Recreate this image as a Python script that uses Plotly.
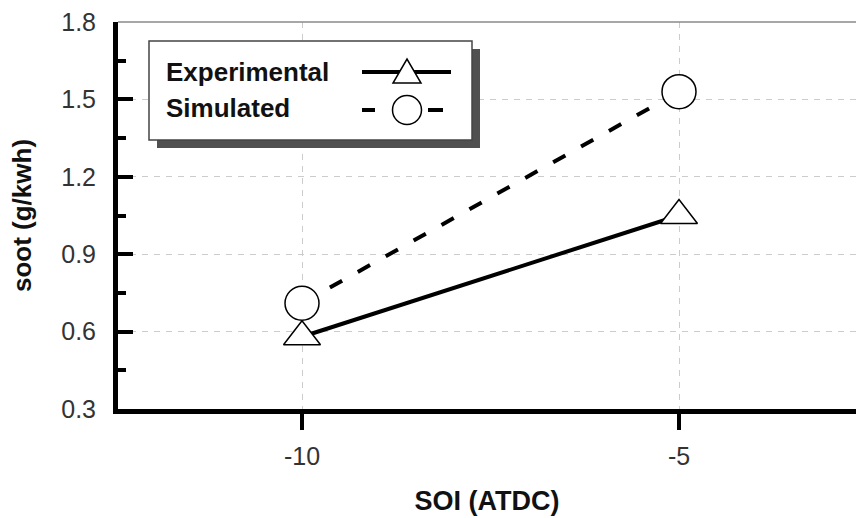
import plotly.graph_objects as go

# ---- data ----
soi = [-10, -5]
soot_experimental = [0.58, 1.05]
soot_simulated = [0.71, 1.53]
y_ticks = [0.3, 0.6, 0.9, 1.2, 1.5, 1.8]
x_ticks = [-10, -5]
series_names = ["Experimental", "Simulated"]

FW, FH = 856, 518
L, T, B = 118, 22, 409
W = FW - L
H = B - T


def px(x):
    return (x - L) / W


def py(y):
    return (B - y) / H


FONT = "Arial, Liberation Sans, sans-serif"

fig = go.Figure()
fig.add_trace(go.Scatter(
    x=soi, y=soot_experimental, mode="lines+markers", name=series_names[0],
    line=dict(color="black", width=4),
    marker=dict(symbol="triangle-up", size=32, color="white",
                line=dict(color="black", width=1.5)),
    showlegend=False))
fig.add_trace(go.Scatter(
    x=soi, y=soot_simulated, mode="lines+markers", name=series_names[1],
    line=dict(color="black", width=4, dash="14px,18px"),
    marker=dict(symbol="circle", size=34, color="white",
                line=dict(color="black", width=1.5)),
    showlegend=False))

shapes = []
# top border
shapes.append(dict(type="line", xref="paper", yref="paper", x0=0, x1=1, y0=1, y1=1,
                   line=dict(color="#8a8a8a", width=1.5), layer="above"))
# legend shadow and box
shapes.append(dict(type="rect", xref="paper", yref="paper",
                   x0=px(157), x1=px(480), y0=py(148), y1=py(49),
                   fillcolor="#505050", line=dict(width=0), layer="above"))
shapes.append(dict(type="rect", xref="paper", yref="paper",
                   x0=px(149), x1=px(472), y0=py(140), y1=py(41),
                   fillcolor="white", line=dict(color="#444444", width=1.5), layer="above"))
# legend samples
shapes.append(dict(type="line", xref="paper", yref="paper",
                   x0=px(362), x1=px(451), y0=py(72), y1=py(72),
                   line=dict(color="black", width=4), layer="above"))
tx, ty = 407, 71
tri = "M {} {} L {} {} L {} {} Z".format(px(tx - 14), py(ty + 12), px(tx + 14), py(ty + 12), px(tx), py(ty - 12))
shapes.append(dict(type="path", xref="paper", yref="paper", path=tri,
                   fillcolor="white", line=dict(color="black", width=1.5), layer="above"))
shapes.append(dict(type="line", xref="paper", yref="paper",
                   x0=px(362), x1=px(375), y0=py(110), y1=py(110),
                   line=dict(color="black", width=4), layer="above"))
shapes.append(dict(type="line", xref="paper", yref="paper",
                   x0=px(428), x1=px(443), y0=py(110), y1=py(110),
                   line=dict(color="black", width=4), layer="above"))
cx, cy, r = 407, 110, 14.5
shapes.append(dict(type="circle", xref="paper", yref="paper",
                   x0=px(cx - r), x1=px(cx + r), y0=py(cy + r), y1=py(cy - r),
                   fillcolor="white", line=dict(color="black", width=1.5), layer="above"))

annotations = [
    dict(text="<b>" + series_names[0] + "</b>", xref="paper", yref="paper",
         x=px(164), y=py(72), xanchor="left", yanchor="middle", showarrow=False,
         font=dict(family=FONT, size=26, color="#111")),
    dict(text="<b>" + series_names[1] + "</b>", xref="paper", yref="paper",
         x=px(164), y=py(108), xanchor="left", yanchor="middle", showarrow=False,
         font=dict(family=FONT, size=26, color="#111")),
]

fig.update_layout(
    width=FW, height=FH,
    margin=dict(l=L, r=0, t=T, b=FH - B, pad=0),
    plot_bgcolor="white", paper_bgcolor="white",
    shapes=shapes, annotations=annotations,
    xaxis=dict(
        range=[-10 - (302 - L) / 75.4, -5 + (FW - 679) / 75.4],
        tickvals=x_ticks, ticktext=[str(v) for v in x_ticks],
        showline=True, linewidth=5, linecolor="black",
        ticks="outside", ticklen=16, tickwidth=4, tickcolor="black",
        showgrid=True, gridcolor="#cccccc", gridwidth=1, griddash="6px,6px",
        zeroline=False,
        tickfont=dict(family=FONT, size=25, color="#333"),
        ticklabelstandoff=5,
        title=dict(text="<b>SOI (ATDC)</b>", font=dict(family=FONT, size=27, color="#111"),
                   standoff=24),
    ),
    yaxis=dict(
        range=[0.3, 1.8],
        tickvals=y_ticks, ticktext=["{:.1f}".format(v) for v in y_ticks],
        showline=True, linewidth=5, linecolor="black",
        ticks="inside", ticklen=15, tickwidth=4, tickcolor="black",
        minor=dict(ticks="inside", ticklen=8, tickwidth=4, tickcolor="black",
                   tickvals=[0.45, 0.75, 1.05, 1.35, 1.65], showgrid=False),
        showgrid=True, gridcolor="#cccccc", gridwidth=1, griddash="6px,6px",
        zeroline=False,
        tickfont=dict(family=FONT, size=25, color="#333"),
        ticklabelstandoff=12,
        title=dict(text="<b>soot (g/kwh)</b>", font=dict(family=FONT, size=26, color="#111"),
                   standoff=24),
    ),
)

fig.write_html("out.html")
